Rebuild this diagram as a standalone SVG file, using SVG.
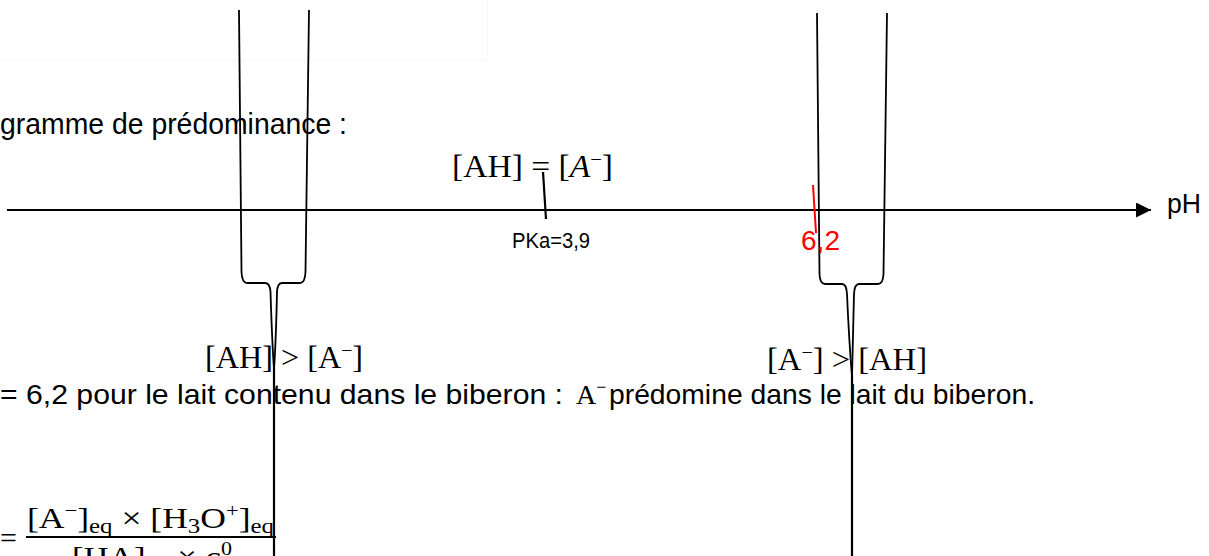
<svg xmlns="http://www.w3.org/2000/svg" width="1209" height="556" viewBox="0 0 1209 556">
<style>
.sans{font-family:"Liberation Sans",Arial,sans-serif;fill:#000}
.serif{font-family:"Liberation Serif","DejaVu Serif",serif;fill:#000}
.ln{fill:none;stroke:#000;stroke-width:2.2;stroke-linecap:butt}
.br{fill:none;stroke:#000;stroke-width:1.8;stroke-linejoin:round}
</style>
<defs>
<marker id="arr" markerWidth="16" markerHeight="16" refX="15" refY="7.5" orient="auto" markerUnits="userSpaceOnUse">
<path d="M0,0 L15,7.5 L0,15 Z" fill="#000"/>
</marker>
</defs>
<rect width="1209" height="556" fill="#fff"/>
<path d="M0,60 H487 V0" fill="none" stroke="#f8f8f8" stroke-width="1"/>

<g id="heading">
<text class="sans" x="0" y="134" font-size="29" textLength="347" lengthAdjust="spacingAndGlyphs">gramme de prédominance :</text>
</g>

<g id="connectors">
<line class="ln" x1="7" y1="210" x2="1151" y2="210" stroke-width="2.6" marker-end="url(#arr)"/>
<line class="ln" x1="543" y1="172" x2="546" y2="219" stroke-width="2"/>
<line x1="813" y1="185" x2="816" y2="233" stroke="#ff0000" stroke-width="2"/>
</g>

<g id="brace-left">
<path class="br" d="M239,10 L241.5,272 Q242,283 247,283 L265,283 Q270,283 270.5,292 Q272,340 274,370"/>
<path class="br" d="M309,10 L305.5,272 Q305,283 300,283 L282,283 Q277.5,283 277,292 Q276,340 274,370"/>
<line class="ln" x1="274" y1="368" x2="274" y2="556" stroke-width="2.4"/>
</g>

<g id="brace-right">
<path class="br" d="M817,13 L819.5,274 Q820,284 825,284 L842,284 Q846.5,284 847,294 Q849,340 852,377"/>
<path class="br" d="M887,13 L883.5,274 Q883,284 878,284 L859,284 Q854.5,284 854,294 Q853,340 852,377"/>
<line class="ln" x1="852" y1="375" x2="852" y2="556" stroke-width="2.4"/>
</g>

<g id="label-equal">
<text class="serif" x="452" y="177" font-size="31" textLength="161" lengthAdjust="spacingAndGlyphs">[AH] = [<tspan font-style="italic">A</tspan><tspan font-size="19" dy="-11">−</tspan><tspan dy="11">]</tspan></text>
</g>

<g id="label-pka">
<text class="sans" x="512" y="248" font-size="22" textLength="78" lengthAdjust="spacingAndGlyphs">PKa=3,9</text>
</g>

<g id="label-62">
<text x="801" y="250" font-family="Liberation Sans, Arial, sans-serif" font-size="28" fill="#ff0000" textLength="39" lengthAdjust="spacingAndGlyphs">6,2</text>
</g>

<g id="label-ph">
<text class="sans" x="1167" y="213" font-size="27" textLength="34" lengthAdjust="spacingAndGlyphs">pH</text>
</g>

<g id="label-ah-gt">
<text class="serif" x="205" y="368" font-size="31" textLength="158" lengthAdjust="spacingAndGlyphs">[AH] &gt; [A<tspan font-size="19" dy="-11">−</tspan><tspan dy="11">]</tspan></text>
</g>

<g id="label-a-gt">
<text class="serif" x="767" y="370" font-size="31" textLength="160" lengthAdjust="spacingAndGlyphs">[A<tspan font-size="19" dy="-11">−</tspan><tspan dy="11">] &gt; [AH]</tspan></text>
</g>

<g id="sentence">
<text class="sans" x="0" y="404" font-size="28" textLength="563" lengthAdjust="spacingAndGlyphs">= 6,2 pour le lait contenu dans le biberon :</text>
<text class="serif" x="576" y="404" font-size="28">A<tspan font-size="18" dy="-11">−</tspan></text>
<text class="sans" x="609" y="404" font-size="28" textLength="426" lengthAdjust="spacingAndGlyphs">prédomine dans le lait du biberon.</text>
</g>

<g id="formula">
<text class="serif" x="0" y="548" font-size="30">=</text>
<text class="serif" x="27" y="528" font-size="30" textLength="247" lengthAdjust="spacingAndGlyphs">[A<tspan font-size="19" dy="-11">−</tspan><tspan dy="11">]</tspan><tspan font-size="21" dy="5">eq</tspan><tspan dy="-5"> × [H</tspan><tspan font-size="21" dy="5">3</tspan><tspan dy="-5">O</tspan><tspan font-size="19" dy="-11">+</tspan><tspan dy="11">]</tspan><tspan font-size="21" dy="5">eq</tspan></text>
<line x1="26" y1="537" x2="276" y2="537" stroke="#000" stroke-width="2"/>
<text class="serif" x="72" y="567" font-size="30" textLength="160" lengthAdjust="spacingAndGlyphs">[HA]<tspan font-size="21" dy="5">eq</tspan><tspan dy="-5"> × c</tspan><tspan font-size="19" dy="-12">0</tspan></text>
</g>
</svg>
